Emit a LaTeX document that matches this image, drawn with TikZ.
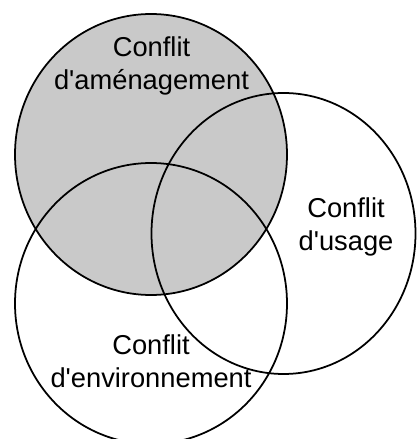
\documentclass[tikz,border=0pt]{standalone}
\usepackage{fontspec}
\setmainfont{Liberation Sans}[Ligatures=TeXOff]

\tikzset{
  ring/.style={line width=1.5pt},
  shade/.style={fill=black!21},
  tag/.style={align=center, inner sep=0pt, font=\fontsize{23.3}{28.2}\selectfont}
}

\begin{document}
\begin{tikzpicture}[x=0.03cm, y=0.03cm]
  \useasboundingbox (0,0) rectangle (417,439);

  % Conflit d'amenagement (shaded)
  \fill[shade] (151,284.5) ellipse [x radius=136, y radius=140.5];

  % Outlines
  \draw[ring] (151,284.5) ellipse [x radius=136, y radius=140.5];
  \draw[ring] (283.5,205.5) ellipse [x radius=132, y radius=140.5];
  \draw[ring] (151,135.5) ellipse [x radius=136, y radius=140.5];

  % Labels
  \node[tag] (amenagement) at (151.5,373.5) {Conflit\\d'aménagement};
  \node[tag] (usage) at (346,212.5) {Conflit\\d'usage};
  \node[tag] (environnement) at (151,77.5) {Conflit\\d'environnement};

\end{tikzpicture}
\end{document}
